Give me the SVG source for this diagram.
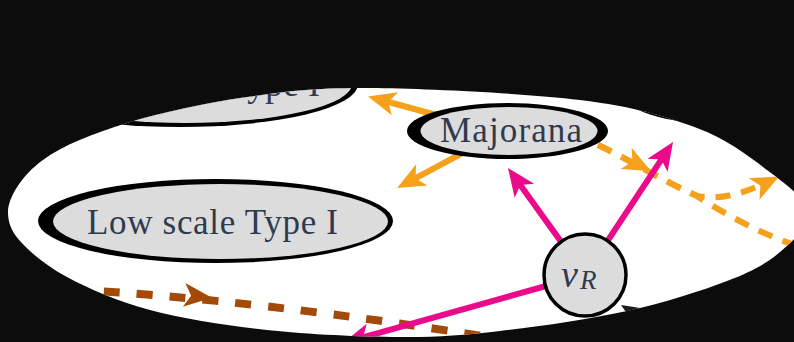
<svg xmlns="http://www.w3.org/2000/svg" width="794" height="342" viewBox="0 0 794 342">
<style>
.bk{fill:#000}
.gr{fill:#dcdcdc}
.lbl{font-family:"Liberation Serif","Times New Roman",serif;font-size:35px;fill:#2f3a4f}
.math{font-family:"Liberation Serif","Times New Roman",serif;font-style:italic;fill:#2f3a4f}
.or{fill:none;stroke:#f5a11c;stroke-width:6}
.ord{fill:none;stroke:#f5a11c;stroke-width:6;stroke-dasharray:15 11}
.pk{fill:none;stroke:#ea0a8a;stroke-width:6}
.br{fill:none;stroke:#a34a08;stroke-width:8;stroke-dasharray:16 17;stroke-dashoffset:22}
.dk{fill:none;stroke:#1c1c1c;stroke-width:6}
</style>
<defs>
<clipPath id="spot">
<path d="M8,212 C8,198 22,174.8 43,160 C62.8,145.2 93,133.5 127,123 C161,112.5 206.5,102.8 247,97 C287.5,91.2 314.5,87.5 370,88 C425.5,88.5 525.5,93.3 580,100 C634.5,106.7 665.8,116.3 697,128 C728.2,139.7 748.5,156 767,170 C785.5,184 805.8,198.3 808,212 C810.2,225.7 793.5,240.5 780,252 C766.5,263.5 752.5,271.2 727,281 C701.5,290.8 664.8,302.7 627,311 C589.2,319.3 537.8,326.7 500,331 C462.2,335.3 438.8,337.2 400,337 C361.2,336.8 308.7,334.5 267,330 C225.3,325.5 183.3,318.8 150,310 C116.7,301.2 88.7,288.7 67,277 C45.3,265.3 29.8,252 20,241 C11,231 8,222 8,212 Z"/>
</clipPath>
<path id="ah" d="M8,0 L-20,-12 L-13,0 L-20,12 Z"/>
<marker id="aO" markerUnits="userSpaceOnUse" markerWidth="40" markerHeight="30" viewBox="-30 -15 40 30" refX="0" refY="0" orient="auto">
<use href="#ah" fill="#f5a11c"/>
</marker>
<marker id="aP" markerUnits="userSpaceOnUse" markerWidth="40" markerHeight="30" viewBox="-30 -15 40 30" refX="0" refY="0" orient="auto">
<use href="#ah" fill="#ea0a8a"/>
</marker>
<marker id="aK" markerUnits="userSpaceOnUse" markerWidth="40" markerHeight="30" viewBox="-30 -15 40 30" refX="0" refY="0" orient="auto">
<use href="#ah" fill="#1c1c1c"/>
</marker>
</defs>
<rect width="794" height="342" fill="#0c0c0c"/>
<g clip-path="url(#spot)">
<rect width="794" height="342" fill="#fff"/>
<g id="connectors">
<path class="br" d="M60,289 Q250,298 520,342"/>
<use href="#ah" fill="#a34a08" transform="translate(204,297) rotate(6)"/>
<path class="or" d="M440,116 L375.7,98.5" marker-end="url(#aO)"/>
<path class="or" d="M470,149 L404.1,184.3" marker-end="url(#aO)"/>
<path class="ord" d="M598,145 C630,160 665,182 695,195 C722,212 765,238 812,250"/>
<path class="ord" d="M598,145 C630,160 665,182 695,195 C712,201 740,196 772,180" marker-end="url(#aO)"/>
<use href="#ah" fill="#f5a11c" transform="translate(644,167.5) rotate(27)"/>
<path class="pk" d="M585,275 L512.7,174.5" marker-end="url(#aP)"/>
<path class="pk" d="M585,275 L668.6,148.7" marker-end="url(#aP)"/>
<path class="pk" d="M585,275 L350.7,340.8" marker-end="url(#aP)"/>
<path class="dk" d="M791,411 L627.8,309.2" marker-end="url(#aK)"/>
</g>
<g id="node-top-right">
<ellipse class="bk" cx="700" cy="78" rx="90" ry="44"/>
<ellipse class="gr" cx="704" cy="77" rx="82" ry="41"/>
</g>
<g id="node-type-i">
<ellipse class="bk" cx="180" cy="84" rx="178" ry="43"/>
<ellipse class="gr" cx="185" cy="84" rx="167" ry="39"/>
<text class="lbl" x="228" y="96" textLength="92" lengthAdjust="spacing">Type I</text>
</g>
<g id="node-majorana">
<ellipse class="bk" cx="507.5" cy="131" rx="100.5" ry="28"/>
<ellipse class="gr" cx="509" cy="131" rx="88.5" ry="24"/>
<text class="lbl" x="440" y="142" textLength="142" lengthAdjust="spacing">Majorana</text>
</g>
<g id="node-low-scale">
<ellipse class="bk" cx="215.5" cy="221" rx="177.5" ry="42"/>
<ellipse class="gr" cx="220.5" cy="221.5" rx="167.5" ry="37.5"/>
<text class="lbl" x="87" y="234" textLength="251" lengthAdjust="spacing">Low scale Type I</text>
</g>
<g id="node-nuR">
<circle cx="585" cy="275" r="41" fill="#dcdcdc" stroke="#000" stroke-width="3.5"/>
<text class="math" x="561" y="287" font-size="38">ν</text>
<text class="math" x="580" y="289" font-size="27">R</text>
</g>
</g>
</svg>
